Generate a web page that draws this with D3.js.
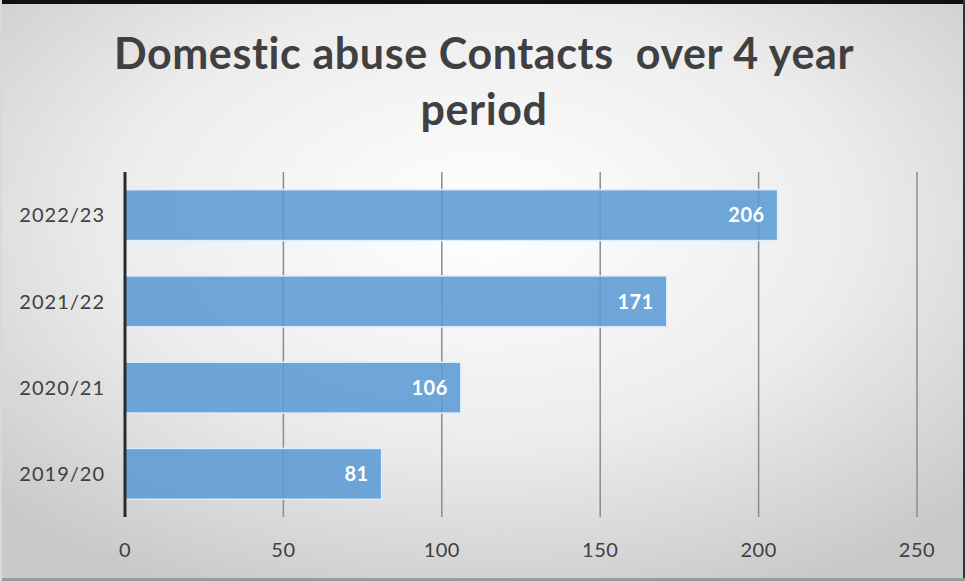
<!DOCTYPE html>
<html>
<head>
<meta charset="utf-8">
<script src="https://cdn.jsdelivr.net/npm/d3@7"></script>
<style>
  html, body { margin: 0; padding: 0; background: #fff; }
  svg { display: block; }
</style>
</head>
<body>
<svg id="chart" width="965" height="581"></svg>
<script>
// Domestic abuse contacts per year
const years = ["2022/23", "2021/22", "2020/21", "2019/20"];
const contacts = [206, 171, 106, 81];
const xTicks = [0, 50, 100, 150, 200, 250];
const titleLines = ["Domestic abuse Contacts\u00a0 over 4 year", "period"];

const W = 965, H = 581;
const margin = { left: 125, right: 48, top: 172, bottom: 64 };

const svg = d3.select("#chart");
const defs = svg.append("defs");

// Soft radial background, bright in the middle, grey at the edges
const bg = defs.append("radialGradient")
  .attr("id", "bgGrad")
  .attr("cx", "50%").attr("cy", "38%").attr("r", "70%");
bg.append("stop").attr("offset", "0%").attr("stop-color", "#ffffff");
bg.append("stop").attr("offset", "55%").attr("stop-color", "#ececec");
bg.append("stop").attr("offset", "100%").attr("stop-color", "#c9c9c9");

svg.append("rect").attr("x", 0).attr("y", 0).attr("width", W).attr("height", H)
  .attr("fill", "url(#bgGrad)");

// Frame edges
svg.append("rect").attr("x", 0).attr("y", 0).attr("width", W).attr("height", 4).attr("fill", "#111");
svg.append("rect").attr("x", W - 2).attr("y", 0).attr("width", 2).attr("height", H).attr("fill", "#333");
svg.append("rect").attr("x", 0).attr("y", H - 3).attr("width", W).attr("height", 3).attr("fill", "#9a9a9a");
svg.append("rect").attr("x", 0).attr("y", 0).attr("width", 2).attr("height", H).attr("fill", "#d8d8d8");

const x = d3.scaleLinear().domain([0, 250]).range([margin.left, W - margin.right]);
const y = d3.scaleBand().domain(years).range([margin.top, H - margin.bottom]).paddingInner(0.41).paddingOuter(0.205);

const font = "Lato, 'Open Sans', sans-serif";

// Title
svg.append("g").selectAll("text").data(titleLines).join("text")
  .attr("x", 484)
  .attr("y", (d, i) => 69 + i * 56)
  .attr("text-anchor", "middle")
  .attr("font-family", font)
  .attr("font-weight", "bold")
  .attr("font-size", 43)
  .attr("letter-spacing", 0.6)
  .attr("fill", "#404040")
  .text(d => d);

// Vertical gridlines
svg.append("g").selectAll("line").data(xTicks.slice(1)).join("line")
  .attr("x1", d => x(d)).attr("x2", d => x(d))
  .attr("y1", margin.top).attr("y2", H - margin.bottom)
  .attr("stroke", "#8c8c8c").attr("stroke-width", 1.5);

// Bars
svg.append("g").selectAll("rect").data(years).join("rect")
  .attr("x", x(0))
  .attr("y", d => y(d))
  .attr("width", (d, i) => x(contacts[i]) - x(0))
  .attr("height", y.bandwidth())
  .attr("fill", "#5b9bd5")
  .attr("fill-opacity", 0.88)
  .attr("stroke", "#dcefff")
  .attr("stroke-width", 1.5);

// Value labels inside the bar ends
svg.append("g").selectAll("text").data(years).join("text")
  .attr("x", (d, i) => x(contacts[i]) - 13)
  .attr("y", d => y(d) + y.bandwidth() / 2)
  .attr("dy", "0.36em")
  .attr("text-anchor", "end")
  .attr("font-family", font)
  .attr("font-weight", "bold")
  .attr("font-size", 20)
  .attr("letter-spacing", 0.5)
  .attr("fill", "#ffffff")
  .text((d, i) => contacts[i]);

// Category axis line
svg.append("line")
  .attr("x1", x(0)).attr("x2", x(0))
  .attr("y1", margin.top).attr("y2", H - margin.bottom)
  .attr("stroke", "#2b2b2b").attr("stroke-width", 3);

// Category labels
svg.append("g").selectAll("text").data(years).join("text")
  .attr("x", 105)
  .attr("y", d => y(d) + y.bandwidth() / 2)
  .attr("dy", "0.36em")
  .attr("text-anchor", "end")
  .attr("font-family", font)
  .attr("font-size", 20)
  .attr("letter-spacing", 1)
  .attr("fill", "#404040")
  .text(d => d);

// Value axis labels
svg.append("g").selectAll("text").data(xTicks).join("text")
  .attr("x", d => x(d))
  .attr("y", 550)
  .attr("dy", "0.36em")
  .attr("text-anchor", "middle")
  .attr("font-family", font)
  .attr("font-size", 20)
  .attr("letter-spacing", 0.5)
  .attr("fill", "#404040")
  .text(d => d);
</script>
</body>
</html>
